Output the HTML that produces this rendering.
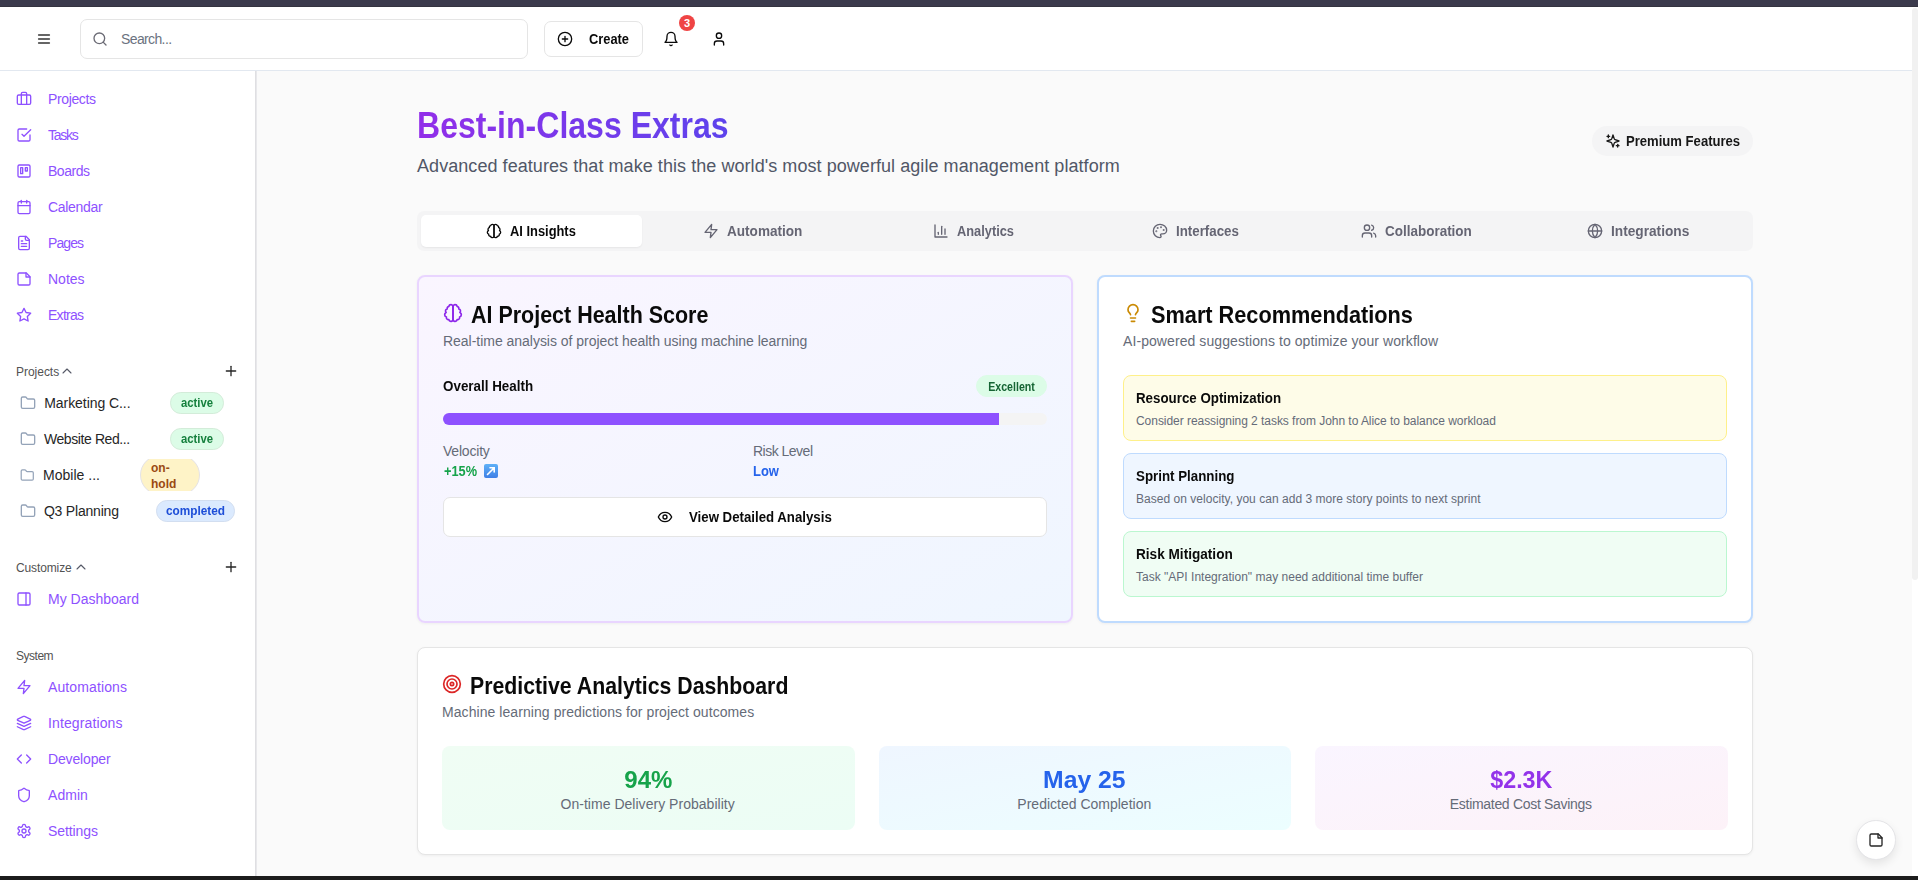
<!DOCTYPE html>
<html><head><meta charset="utf-8"><title>Best-in-Class Extras</title>
<style>
*{box-sizing:border-box;margin:0;padding:0}
html,body{width:1918px;height:880px;overflow:hidden;background:#fff}
body{font-family:"Liberation Sans",sans-serif;color:#0a0a0a;position:relative}
.a{position:absolute}
svg.i{position:absolute;fill:none;stroke:currentColor;stroke-width:2;stroke-linecap:round;stroke-linejoin:round}
.t{position:absolute;white-space:nowrap}
.grad{background:linear-gradient(90deg,#922ee9,#5d43ec);-webkit-background-clip:text;background-clip:text;color:transparent}
</style></head><body>
<div class="a" style="left:0px;top:0px;width:1918px;height:7px;background:#3b3a4c"></div>
<div class="a" style="left:0px;top:6px;width:1918px;height:1px;background:#34333f"></div>
<div class="a" style="left:0px;top:7px;width:1912px;height:63px;background:#fff"></div>
<div class="a" style="left:0px;top:70px;width:1912px;height:1px;background:#e2e8f0"></div>
<div class="a" style="left:0px;top:71px;width:255px;height:805px;background:#fff"></div>
<div class="a" style="left:255px;top:71px;width:1px;height:805px;background:#dfdfe2"></div>
<div class="a" style="left:256px;top:71px;width:1px;height:805px;background:#e8e8eb"></div>
<div class="a" style="left:257px;top:71px;width:1655px;height:805px;background:#fafafa"></div>
<div class="a" style="left:1912px;top:7px;width:6px;height:869px;background:#fff"></div>
<div class="a" style="left:1912px;top:8px;width:6px;height:572px;background:#f1f1f1;border-radius:3px"></div>
<div class="a" style="left:0px;top:876px;width:1918px;height:4px;background:#1c1c1c"></div>
<svg class="i" style="left:36px;top:31px;color:#333333;stroke-width:2.4;" width="16" height="16" viewBox="0 0 24 24"><path d="M4 6h16M4 12h16M4 18h16"/></svg>
<div class="a" style="left:80px;top:19px;width:448px;height:40px;border:1px solid #e5e5e5;border-radius:7px;background:#fff"></div>
<svg class="i" style="left:92px;top:31px;color:#6b6b75;" width="16" height="16" viewBox="0 0 24 24"><circle cx="11" cy="11" r="8"/><path d="m21 21-4.3-4.3"/></svg>
<div class="t " id="search" style="left:121px;top:29.15px;font-size:14px;line-height:20px;color:#6b7280;letter-spacing:-0.623px;">Search...</div>
<div class="a" style="left:544px;top:21px;width:99px;height:36px;border:1px solid #e5e5e5;border-radius:7px;background:#fff"></div>
<svg class="i" style="left:557px;top:31px;color:#0a0a0a;" width="16" height="16" viewBox="0 0 24 24"><circle cx="12" cy="12" r="10"/><path d="M8 12h8M12 8v8"/></svg>
<div class="t " id="create" style="left:589px;top:29.05px;font-size:14px;line-height:20px;color:#0a0a0a;font-weight:700;transform:scaleX(0.9182);transform-origin:0 0;">Create</div>
<svg class="i" style="left:663px;top:31px;color:#0a0a0a;" width="16" height="16" viewBox="0 0 24 24"><path d="M6 8a6 6 0 0 1 12 0c0 7 3 9 3 9H3s3-2 3-9"/><path d="M10.3 21a1.94 1.94 0 0 0 3.4 0"/></svg>
<div class="a" style="left:679px;top:15px;width:16px;height:16px;border-radius:8px;background:#ef4444;color:#fff;font-size:11px;line-height:16px;text-align:center;font-weight:700">3</div>
<svg class="i" style="left:711px;top:31px;color:#0a0a0a;" width="16" height="16" viewBox="0 0 24 24"><path d="M19 21v-2a4 4 0 0 0-4-4H9a4 4 0 0 0-4 4v2"/><circle cx="12" cy="7" r="4"/></svg>
<svg class="i" style="left:16px;top:91px;color:#8e51ff;" width="16" height="16" viewBox="0 0 24 24"><path d="M16 20V4a2 2 0 0 0-2-2h-4a2 2 0 0 0-2 2v16"/><rect width="20" height="14" x="2" y="6" rx="2"/></svg>
<div class="t " id="nav0" style="left:48px;top:88.85px;font-size:14px;line-height:20px;color:#8e51ff;letter-spacing:-0.371px;">Projects</div>
<svg class="i" style="left:16px;top:127px;color:#8e51ff;" width="16" height="16" viewBox="0 0 24 24"><polyline points="9 11 12 14 22 4"/><path d="M21 12v7a2 2 0 0 1-2 2H5a2 2 0 0 1-2-2V5a2 2 0 0 1 2-2h11"/></svg>
<div class="t " id="nav1" style="left:48px;top:124.85px;font-size:14px;line-height:20px;color:#8e51ff;letter-spacing:-1.250px;">Tasks</div>
<svg class="i" style="left:16px;top:163px;color:#8e51ff;" width="16" height="16" viewBox="0 0 24 24"><rect width="18" height="18" x="3" y="3" rx="2" ry="2"/><rect width="3" height="9" x="7" y="7"/><rect width="3" height="5" x="14" y="7"/></svg>
<div class="t " id="nav2" style="left:48px;top:160.85px;font-size:14px;line-height:20px;color:#8e51ff;letter-spacing:-0.480px;">Boards</div>
<svg class="i" style="left:16px;top:199px;color:#8e51ff;" width="16" height="16" viewBox="0 0 24 24"><rect width="18" height="18" x="3" y="4" rx="2" ry="2"/><line x1="16" x2="16" y1="2" y2="6"/><line x1="8" x2="8" y1="2" y2="6"/><line x1="3" x2="21" y1="10" y2="10"/></svg>
<div class="t " id="nav3" style="left:48px;top:196.85px;font-size:14px;line-height:20px;color:#8e51ff;letter-spacing:-0.313px;">Calendar</div>
<svg class="i" style="left:16px;top:235px;color:#8e51ff;" width="16" height="16" viewBox="0 0 24 24"><path d="M15 2H6a2 2 0 0 0-2 2v16a2 2 0 0 0 2 2h12a2 2 0 0 0 2-2V7Z"/><path d="M14 2v4a2 2 0 0 0 2 2h4"/><path d="M10 9H8"/><path d="M16 13H8"/><path d="M16 17H8"/></svg>
<div class="t " id="nav4" style="left:48px;top:232.85px;font-size:14px;line-height:20px;color:#8e51ff;letter-spacing:-0.900px;">Pages</div>
<svg class="i" style="left:16px;top:271px;color:#8e51ff;" width="16" height="16" viewBox="0 0 24 24"><path d="M15.5 3H5a2 2 0 0 0-2 2v14c0 1.1.9 2 2 2h14a2 2 0 0 0 2-2V8.5L15.5 3Z"/><path d="M15 3v6h6"/></svg>
<div class="t " id="nav5" style="left:48px;top:268.85px;font-size:14px;line-height:20px;color:#8e51ff;">Notes</div>
<svg class="i" style="left:16px;top:307px;color:#8e51ff;" width="16" height="16" viewBox="0 0 24 24"><polygon points="12 2 15.09 8.26 22 9.27 17 14.14 18.18 21.02 12 17.77 5.82 21.02 7 14.14 2 9.27 8.91 8.26 12 2"/></svg>
<div class="t " id="nav6" style="left:48px;top:304.85px;font-size:14px;line-height:20px;color:#8e51ff;letter-spacing:-0.720px;">Extras</div>
<div class="t " id="sec_projects" style="left:16px;top:364.04px;font-size:12px;line-height:17px;color:#525252;letter-spacing:-0.026px;">Projects</div>
<svg class="i" style="left:59px;top:363px;color:#555866;stroke-width:1.6;" width="16" height="16" viewBox="0 0 24 24"><path d="m18 15-6-6-6 6"/></svg>
<svg class="i" style="left:223px;top:363px;color:#262626;" width="16" height="16" viewBox="0 0 24 24"><path d="M5 12h14"/><path d="M12 5v14"/></svg>
<svg class="i" style="left:20px;top:395.4px;color:#94a3b8;" width="16" height="16" viewBox="0 0 24 24"><path d="M20 20a2 2 0 0 0 2-2V8a2 2 0 0 0-2-2h-7.9a2 2 0 0 1-1.69-.9L9.6 3.9A2 2 0 0 0 7.93 3H4a2 2 0 0 0-2 2v13a2 2 0 0 0 2 2Z"/></svg>
<div class="t " id="proj0" style="left:44.25px;top:393.05px;font-size:14px;line-height:20px;color:#262626;letter-spacing:-0.062px;">Marketing C...</div>
<svg class="i" style="left:20px;top:431.4px;color:#94a3b8;" width="16" height="16" viewBox="0 0 24 24"><path d="M20 20a2 2 0 0 0 2-2V8a2 2 0 0 0-2-2h-7.9a2 2 0 0 1-1.69-.9L9.6 3.9A2 2 0 0 0 7.93 3H4a2 2 0 0 0-2 2v13a2 2 0 0 0 2 2Z"/></svg>
<div class="t " id="proj1" style="left:43.9px;top:429.05px;font-size:14px;line-height:20px;color:#262626;letter-spacing:-0.403px;">Website Red...</div>
<svg class="i" style="left:19.5px;top:468px;color:#94a3b8" width="14.5" height="14.5" viewBox="0 0 24 24"><path d="M20 20a2 2 0 0 0 2-2V8a2 2 0 0 0-2-2h-7.9a2 2 0 0 1-1.69-.9L9.6 3.9A2 2 0 0 0 7.93 3H4a2 2 0 0 0-2 2v13a2 2 0 0 0 2 2Z"/></svg>
<div class="t " id="proj2" style="left:43px;top:465.05px;font-size:14px;line-height:20px;color:#262626;letter-spacing:0.021px;">Mobile ...</div>
<svg class="i" style="left:20px;top:503.4px;color:#94a3b8;" width="16" height="16" viewBox="0 0 24 24"><path d="M20 20a2 2 0 0 0 2-2V8a2 2 0 0 0-2-2h-7.9a2 2 0 0 1-1.69-.9L9.6 3.9A2 2 0 0 0 7.93 3H4a2 2 0 0 0-2 2v13a2 2 0 0 0 2 2Z"/></svg>
<div class="t " id="proj3" style="left:43.9px;top:501.05px;font-size:14px;line-height:20px;color:#262626;letter-spacing:-0.200px;">Q3 Planning</div>
<div class="a" style="left:170px;top:392px;width:54px;height:21.5px;border-radius:10.75px;background:#dcfce7;border:1px solid #d3ecd9"></div>
<div class="t" id="bd0" style="left:170px;top:395.49px;width:54px;text-align:center;font-size:12px;line-height:16px;color:#15803d;font-weight:700;transform:scaleX(0.9422);transform-origin:50% 0;">active</div>
<div class="a" style="left:170px;top:428px;width:54px;height:21.5px;border-radius:10.75px;background:#dcfce7;border:1px solid #d3ecd9"></div>
<div class="t" id="bd1" style="left:170px;top:431.49px;width:54px;text-align:center;font-size:12px;line-height:16px;color:#15803d;font-weight:700;transform:scaleX(0.9422);transform-origin:50% 0;">active</div>
<div class="a" style="left:140px;top:459px;width:60px;height:32px;overflow:hidden"><div class="a" style="left:0;top:-4px;width:60px;height:40px;border-radius:20px;background:#fef3c7;border:1px solid #e4e2e6"></div><div class="a" style="left:11px;top:1px;font-size:12px;line-height:16px;font-weight:700;color:#9a4a12;letter-spacing:0px">on-<br>hold</div></div>
<div class="a" style="left:156px;top:500px;width:79px;height:21.5px;border-radius:10.75px;background:#dbeafe;border:1px solid #d2def0"></div>
<div class="t" id="bd3" style="left:156px;top:503.49px;width:79px;text-align:center;font-size:12px;line-height:16px;color:#1d4ed8;font-weight:700;transform:scaleX(0.9831);transform-origin:50% 0;">completed</div>
<div class="t " id="sec_custom" style="left:16px;top:559.64px;font-size:12px;line-height:17px;color:#525252;letter-spacing:-0.125px;">Customize</div>
<svg class="i" style="left:72.5px;top:559px;color:#555866;stroke-width:1.6;" width="16" height="16" viewBox="0 0 24 24"><path d="m18 15-6-6-6 6"/></svg>
<svg class="i" style="left:223px;top:559px;color:#262626;" width="16" height="16" viewBox="0 0 24 24"><path d="M5 12h14"/><path d="M12 5v14"/></svg>
<svg class="i" style="left:16px;top:591px;color:#8e51ff;" width="16" height="16" viewBox="0 0 24 24"><rect width="18" height="18" x="3" y="3" rx="2"/><path d="M15 3v18"/></svg>
<div class="t " id="nav_mydash" style="left:48px;top:588.65px;font-size:14px;line-height:20px;color:#8e51ff;letter-spacing:0.002px;">My Dashboard</div>
<div class="t " id="sec_system" style="left:16px;top:648.34px;font-size:12px;line-height:17px;color:#525252;letter-spacing:-0.480px;">System</div>
<svg class="i" style="left:16px;top:679px;color:#8e51ff;" width="16" height="16" viewBox="0 0 24 24"><polygon points="13 2 3 14 12 14 11 22 21 10 12 10 13 2"/></svg>
<div class="t " id="sys0" style="left:48px;top:677.15px;font-size:14px;line-height:20px;color:#8e51ff;letter-spacing:0.120px;">Automations</div>
<svg class="i" style="left:16px;top:715px;color:#8e51ff;" width="16" height="16" viewBox="0 0 24 24"><path d="m12.83 2.18a2 2 0 0 0-1.66 0L2.6 6.08a1 1 0 0 0 0 1.83l8.58 3.91a2 2 0 0 0 1.66 0l8.58-3.9a1 1 0 0 0 0-1.83Z"/><path d="m22 17.65-9.17 4.16a2 2 0 0 1-1.66 0L2 17.65"/><path d="m22 12.65-9.17 4.16a2 2 0 0 1-1.66 0L2 12.65"/></svg>
<div class="t " id="sys1" style="left:48px;top:713.15px;font-size:14px;line-height:20px;color:#8e51ff;letter-spacing:0.125px;">Integrations</div>
<svg class="i" style="left:16px;top:751px;color:#8e51ff;" width="16" height="16" viewBox="0 0 24 24"><polyline points="16 18 22 12 16 6"/><polyline points="8 6 2 12 8 18"/></svg>
<div class="t " id="sys2" style="left:48px;top:749.15px;font-size:14px;line-height:20px;color:#8e51ff;letter-spacing:-0.147px;">Developer</div>
<svg class="i" style="left:16px;top:787px;color:#8e51ff;" width="16" height="16" viewBox="0 0 24 24"><path d="M20 13c0 5-3.5 7.5-7.66 8.95a1 1 0 0 1-.67-.01C7.5 20.5 4 18 4 13V6a1 1 0 0 1 1-1c2 0 4.5-1.2 6.24-2.72a1.17 1.17 0 0 1 1.52 0C14.51 3.81 17 5 19 5a1 1 0 0 1 1 1z"/></svg>
<div class="t " id="sys3" style="left:48px;top:785.15px;font-size:14px;line-height:20px;color:#8e51ff;letter-spacing:0.050px;">Admin</div>
<svg class="i" style="left:16px;top:823px;color:#8e51ff;" width="16" height="16" viewBox="0 0 24 24"><path d="M12.22 2h-.44a2 2 0 0 0-2 2v.18a2 2 0 0 1-1 1.73l-.43.25a2 2 0 0 1-2 0l-.15-.08a2 2 0 0 0-2.73.73l-.22.38a2 2 0 0 0 .73 2.73l.15.1a2 2 0 0 1 1 1.72v.51a2 2 0 0 1-1 1.74l-.15.09a2 2 0 0 0-.73 2.73l.22.38a2 2 0 0 0 2.73.73l.15-.08a2 2 0 0 1 2 0l.43.25a2 2 0 0 1 1 1.73V20a2 2 0 0 0 2 2h.44a2 2 0 0 0 2-2v-.18a2 2 0 0 1 1-1.73l.43-.25a2 2 0 0 1 2 0l.15.08a2 2 0 0 0 2.73-.73l.22-.39a2 2 0 0 0-.73-2.73l-.15-.08a2 2 0 0 1-1-1.74v-.5a2 2 0 0 1 1-1.74l.15-.09a2 2 0 0 0 .73-2.73l-.22-.38a2 2 0 0 0-2.73-.73l-.15.08a2 2 0 0 1-2 0l-.43-.25a2 2 0 0 1-1-1.73V4a2 2 0 0 0-2-2z"/><circle cx="12" cy="12" r="3"/></svg>
<div class="t " id="sys4" style="left:48px;top:821.15px;font-size:14px;line-height:20px;color:#8e51ff;letter-spacing:-0.084px;">Settings</div>
<div class="t " id="title" style="left:417px;top:105.93px;font-size:36px;line-height:40px;color:#0a0a0a;font-weight:700;transform:scaleX(0.8900);transform-origin:0 0;"><span class="grad">Best-in-Class Extras</span></div>
<div class="t " id="subtitle" style="left:417px;top:151.56px;font-size:18px;line-height:28px;color:#515767;letter-spacing:0.060px;">Advanced features that make this the world's most powerful agile management platform</div>
<div class="a" style="left:1592px;top:126px;width:161px;height:30px;border-radius:15px;background:#f4f4f5"></div>
<svg class="i" style="left:1605px;top:133px;color:#171717;" width="16" height="16" viewBox="0 0 24 24"><path d="m12 3-1.912 5.813a2 2 0 0 1-1.275 1.275L3 12l5.813 1.912a2 2 0 0 1 1.275 1.275L12 21l1.912-5.813a2 2 0 0 1 1.275-1.275L21 12l-5.813-1.912a2 2 0 0 1-1.275-1.275L12 3Z"/><path d="M5 3v4"/><path d="M19 17v4"/><path d="M3 5h4"/><path d="M17 19h4"/></svg>
<div class="t " id="premium" style="left:1626px;top:130.65px;font-size:14px;line-height:20px;color:#171717;font-weight:700;transform:scaleX(0.9344);transform-origin:0 0;">Premium Features</div>
<div class="a" style="left:417px;top:211px;width:1336px;height:40px;border-radius:7px;background:#f4f4f5"></div>
<div class="a" style="left:421px;top:215px;width:221.33px;height:32px;border-radius:5px;background:#fff;box-shadow:0 1px 2px rgba(0,0,0,.06)"></div>
<svg class="i" style="left:486px;top:223px;color:#0a0a0a;" width="16" height="16" viewBox="0 0 24 24"><path d="M9.5 2A2.5 2.5 0 0 1 12 4.5v15a2.5 2.5 0 0 1-4.96.44 2.5 2.5 0 0 1-2.96-3.08 3 3 0 0 1-.34-5.58 2.5 2.5 0 0 1 1.32-4.24 2.5 2.5 0 0 1 1.98-3A2.5 2.5 0 0 1 9.5 2Z"/><path d="M14.5 2A2.5 2.5 0 0 0 12 4.5v15a2.5 2.5 0 0 0 4.96.44 2.5 2.5 0 0 0 2.96-3.08 3 3 0 0 0 .34-5.58 2.5 2.5 0 0 0-1.32-4.24 2.5 2.5 0 0 0-1.98-3A2.5 2.5 0 0 0 14.5 2Z"/></svg>
<div class="t " id="tab0" style="left:510.1px;top:220.75px;font-size:14px;line-height:20px;color:#0a0a0a;font-weight:700;transform:scaleX(0.9197);transform-origin:0 0;">AI Insights</div>
<svg class="i" style="left:703px;top:223px;color:#656573;" width="16" height="16" viewBox="0 0 24 24"><polygon points="13 2 3 14 12 14 11 22 21 10 12 10 13 2"/></svg>
<div class="t " id="tab1" style="left:726.5px;top:220.75px;font-size:14px;line-height:20px;color:#656573;font-weight:700;transform:scaleX(0.9689);transform-origin:0 0;">Automation</div>
<svg class="i" style="left:933px;top:223px;color:#656573;" width="16" height="16" viewBox="0 0 24 24"><path d="M3 3v18h18"/><path d="M18 17V9"/><path d="M13 17V5"/><path d="M8 17v-3"/></svg>
<div class="t " id="tab2" style="left:957.4px;top:220.75px;font-size:14px;line-height:20px;color:#656573;font-weight:700;transform:scaleX(0.9149);transform-origin:0 0;">Analytics</div>
<svg class="i" style="left:1152px;top:223px;color:#656573;" width="16" height="16" viewBox="0 0 24 24"><circle cx="13.5" cy="6.5" r=".5" fill="currentColor"/><circle cx="17.5" cy="10.5" r=".5" fill="currentColor"/><circle cx="8.5" cy="7.5" r=".5" fill="currentColor"/><circle cx="6.5" cy="12.5" r=".5" fill="currentColor"/><path d="M12 2C6.5 2 2 6.5 2 12s4.5 10 10 10c.926 0 1.648-.746 1.648-1.688 0-.437-.18-.835-.437-1.125-.29-.289-.438-.652-.438-1.125a1.64 1.64 0 0 1 1.668-1.668h1.996c3.051 0 5.555-2.503 5.555-5.554C21.965 6.012 17.461 2 12 2z"/></svg>
<div class="t " id="tab3" style="left:1176.0px;top:220.75px;font-size:14px;line-height:20px;color:#656573;font-weight:700;transform:scaleX(0.9508);transform-origin:0 0;">Interfaces</div>
<svg class="i" style="left:1361px;top:223px;color:#656573;" width="16" height="16" viewBox="0 0 24 24"><path d="M16 21v-2a4 4 0 0 0-4-4H6a4 4 0 0 0-4 4v2"/><circle cx="9" cy="7" r="4"/><path d="M22 21v-2a4 4 0 0 0-3-3.87"/><path d="M16 3.13a4 4 0 0 1 0 7.75"/></svg>
<div class="t " id="tab4" style="left:1385.1px;top:220.75px;font-size:14px;line-height:20px;color:#656573;font-weight:700;transform:scaleX(0.9623);transform-origin:0 0;">Collaboration</div>
<svg class="i" style="left:1587px;top:223px;color:#656573;" width="16" height="16" viewBox="0 0 24 24"><circle cx="12" cy="12" r="10"/><path d="M12 2a14.5 14.5 0 0 0 0 20 14.5 14.5 0 0 0 0-20"/><path d="M2 12h20"/></svg>
<div class="t " id="tab5" style="left:1611.4px;top:220.75px;font-size:14px;line-height:20px;color:#656573;font-weight:700;transform:scaleX(0.9773);transform-origin:0 0;">Integrations</div>
<div class="a" style="left:417px;top:275px;width:656px;height:348px;border:2px solid #e9d5ff;border-radius:8px;background:linear-gradient(to bottom right,#faf5ff,#eff6ff);box-shadow:0 1px 3px rgba(0,0,0,.05)"></div>
<svg class="i" style="left:443px;top:303px;color:#8c25ea;" width="20" height="20" viewBox="0 0 24 24"><path d="M9.5 2A2.5 2.5 0 0 1 12 4.5v15a2.5 2.5 0 0 1-4.96.44 2.5 2.5 0 0 1-2.96-3.08 3 3 0 0 1-.34-5.58 2.5 2.5 0 0 1 1.32-4.24 2.5 2.5 0 0 1 1.98-3A2.5 2.5 0 0 1 9.5 2Z"/><path d="M14.5 2A2.5 2.5 0 0 0 12 4.5v15a2.5 2.5 0 0 0 4.96.44 2.5 2.5 0 0 0 2.96-3.08 3 3 0 0 0 .34-5.58 2.5 2.5 0 0 0-1.32-4.24 2.5 2.5 0 0 0-1.98-3A2.5 2.5 0 0 0 14.5 2Z"/></svg>
<div class="t " id="c1title" style="left:471px;top:299.08px;font-size:24px;line-height:32px;color:#0a0a0a;font-weight:700;transform:scaleX(0.8944);transform-origin:0 0;">AI Project Health Score</div>
<div class="t " id="c1sub" style="left:443px;top:330.55px;font-size:14px;line-height:20px;color:#656b78;letter-spacing:-0.025px;">Real-time analysis of project health using machine learning</div>
<div class="t " id="overall" style="left:443px;top:375.95px;font-size:14px;line-height:20px;color:#0a0a0a;font-weight:700;transform:scaleX(0.9574);transform-origin:0 0;">Overall Health</div>
<div class="a" style="left:976px;top:375px;width:71px;height:22px;border-radius:11.0px;background:#dcfce7;border:1px solid #dcfce7"></div>
<div class="t" id="excellent" style="left:976px;top:378.74px;width:71px;text-align:center;font-size:12px;line-height:16px;color:#166534;font-weight:700;transform:scaleX(0.8850);transform-origin:50% 0;">Excellent</div>
<div class="a" style="left:443px;top:413px;width:604px;height:12px;border-radius:6px;background:#f4f4f4;overflow:hidden"><div style="width:556px;height:12px;background:#8e51ff"></div></div>
<div class="t " id="velocity" style="left:443px;top:441.05px;font-size:14px;line-height:20px;color:#656b78;letter-spacing:-0.201px;">Velocity</div>
<div class="t " id="plus15" style="left:443.5px;top:460.95px;font-size:14px;line-height:20px;color:#16a34a;font-weight:700;transform:scaleX(0.9111);transform-origin:0 0;">+15%</div>
<div class="a" style="left:484px;top:464px;width:14px;height:14px;border-radius:2px;background:linear-gradient(180deg,#5fb0f7,#3f7fe6)"><svg width="14" height="14" viewBox="0 0 14 14" style="position:absolute;left:0;top:0"><path d="M3.5 10.5 10 4M6 3.8h4.2V8" stroke="#fff" stroke-width="1.6" fill="none" stroke-linecap="round"/></svg></div>
<div class="t " id="risk" style="left:753px;top:441.05px;font-size:14px;line-height:20px;color:#656b78;letter-spacing:-0.510px;">Risk Level</div>
<div class="t " id="low" style="left:753px;top:460.95px;font-size:14px;line-height:20px;color:#2563eb;font-weight:700;transform:scaleX(0.9259);transform-origin:0 0;">Low</div>
<div class="a" style="left:443px;top:497px;width:604px;height:40px;border:1px solid #e5e5e5;border-radius:7px;background:#fff"></div>
<svg class="i" style="left:657px;top:509px;color:#0a0a0a;" width="16" height="16" viewBox="0 0 24 24"><path d="M2 12s3-7 10-7 10 7 10 7-3 7-10 7-10-7-10-7Z"/><circle cx="12" cy="12" r="3"/></svg>
<div class="t " id="view" style="left:689px;top:507.15px;font-size:14px;line-height:20px;color:#0a0a0a;font-weight:700;transform:scaleX(0.9457);transform-origin:0 0;">View Detailed Analysis</div>
<div class="a" style="left:1097px;top:275px;width:656px;height:348px;border:2px solid #bfdbfe;border-radius:8px;background:#fff;box-shadow:0 1px 3px rgba(0,0,0,.05)"></div>
<svg class="i" style="left:1123px;top:303px;color:#ca8a04;" width="20" height="20" viewBox="0 0 24 24"><path d="M15 14c.2-1 .7-1.7 1.5-2.5 1-.9 1.5-2.2 1.5-3.5A6 6 0 0 0 6 8c0 1 .2 2.2 1.5 3.5.7.7 1.3 1.5 1.5 2.5"/><path d="M9 18h6"/><path d="M10 22h4"/></svg>
<div class="t " id="c2title" style="left:1151px;top:298.78px;font-size:24px;line-height:32px;color:#0a0a0a;font-weight:700;transform:scaleX(0.9051);transform-origin:0 0;">Smart Recommendations</div>
<div class="t " id="c2sub" style="left:1123px;top:330.75px;font-size:14px;line-height:20px;color:#656b78;letter-spacing:0.080px;">AI-powered suggestions to optimize your workflow</div>
<div class="a" style="left:1123px;top:375px;width:604px;height:66px;border:1px solid #fef08a;border-radius:8px;background:#fefce8"></div>
<div class="t " id="rect0" style="left:1136px;top:388.35px;font-size:14px;line-height:20px;color:#0a0a0a;font-weight:700;transform:scaleX(0.9514);transform-origin:0 0;">Resource Optimization</div>
<div class="t " id="recd0" style="left:1136px;top:412.84px;font-size:12px;line-height:16px;color:#656b78;letter-spacing:-0.045px;">Consider reassigning 2 tasks from John to Alice to balance workload</div>
<div class="a" style="left:1123px;top:453px;width:604px;height:66px;border:1px solid #bfdbfe;border-radius:8px;background:#eff6ff"></div>
<div class="t " id="rect1" style="left:1136px;top:466.35px;font-size:14px;line-height:20px;color:#0a0a0a;font-weight:700;transform:scaleX(0.9515);transform-origin:0 0;">Sprint Planning</div>
<div class="t " id="recd1" style="left:1136px;top:490.84px;font-size:12px;line-height:16px;color:#656b78;letter-spacing:0.029px;">Based on velocity, you can add 3 more story points to next sprint</div>
<div class="a" style="left:1123px;top:531px;width:604px;height:66px;border:1px solid #bbf7d0;border-radius:8px;background:#f0fdf4"></div>
<div class="t " id="rect2" style="left:1136px;top:544.35px;font-size:14px;line-height:20px;color:#0a0a0a;font-weight:700;transform:scaleX(0.9718);transform-origin:0 0;">Risk Mitigation</div>
<div class="t " id="recd2" style="left:1136px;top:568.84px;font-size:12px;line-height:16px;color:#656b78;letter-spacing:0.010px;">Task "API Integration" may need additional time buffer</div>
<div class="a" style="left:417px;top:647px;width:1336px;height:208px;border:1px solid #e5e5e5;border-radius:8px;background:#fff;box-shadow:0 1px 3px rgba(0,0,0,.05)"></div>
<svg class="i" style="left:442px;top:674px;color:#dc2626;" width="20" height="20" viewBox="0 0 24 24"><circle cx="12" cy="12" r="10"/><circle cx="12" cy="12" r="6"/><circle cx="12" cy="12" r="2"/></svg>
<div class="t " id="c3title" style="left:470px;top:670.18px;font-size:24px;line-height:32px;color:#0a0a0a;font-weight:700;transform:scaleX(0.8863);transform-origin:0 0;">Predictive Analytics Dashboard</div>
<div class="t " id="c3sub" style="left:442px;top:701.85px;font-size:14px;line-height:20px;color:#656b78;letter-spacing:0.067px;">Machine learning predictions for project outcomes</div>
<div class="a" style="left:442px;top:746px;width:412.67px;height:84px;border-radius:8px;background:linear-gradient(to bottom right,#f0fdf4,#ecfdf5)"></div>
<div class="t" id="sv0" style="left:441.5px;top:764.08px;width:412.67px;text-align:center;font-size:24px;line-height:32px;color:#16a34a;font-weight:700;transform:scaleX(1.0001);transform-origin:50% 0;">94%</div>
<div class="t" id="sl0" style="left:441.3px;top:793.85px;width:412.67px;text-align:center;font-size:14px;line-height:20px;color:#656b78;letter-spacing:0.028px;text-indent:0.028px;">On-time Delivery Probability</div>
<div class="a" style="left:878.67px;top:746px;width:412.67px;height:84px;border-radius:8px;background:linear-gradient(to bottom right,#eff6ff,#ecfeff)"></div>
<div class="t" id="sv1" style="left:878.17px;top:764.08px;width:412.67px;text-align:center;font-size:24px;line-height:32px;color:#2563eb;font-weight:700;transform:scaleX(1.0306);transform-origin:50% 0;">May 25</div>
<div class="t" id="sl1" style="left:877.9699999999999px;top:793.85px;width:412.67px;text-align:center;font-size:14px;line-height:20px;color:#656b78;">Predicted Completion</div>
<div class="a" style="left:1315.33px;top:746px;width:412.67px;height:84px;border-radius:8px;background:linear-gradient(to bottom right,#faf5ff,#fdf2f8)"></div>
<div class="t" id="sv2" style="left:1314.83px;top:764.08px;width:412.67px;text-align:center;font-size:24px;line-height:32px;color:#9333ea;font-weight:700;transform:scaleX(0.9719);transform-origin:50% 0;">$2.3K</div>
<div class="t" id="sl2" style="left:1314.6299999999999px;top:793.85px;width:412.67px;text-align:center;font-size:14px;line-height:20px;color:#656b78;letter-spacing:-0.304px;text-indent:-0.304px;">Estimated Cost Savings</div>
<div class="a" style="left:1856px;top:820px;width:39.5px;height:39.5px;border-radius:50%;background:#fff;border:1px solid #e4e4e7;box-shadow:0 4px 10px rgba(0,0,0,.09)"></div>
<svg class="i" style="left:1868px;top:832px;color:#262626;" width="16" height="16" viewBox="0 0 24 24"><path d="M15.5 3H5a2 2 0 0 0-2 2v14c0 1.1.9 2 2 2h14a2 2 0 0 0 2-2V8.5L15.5 3Z"/><path d="M15 3v6h6"/></svg>
</body></html>
